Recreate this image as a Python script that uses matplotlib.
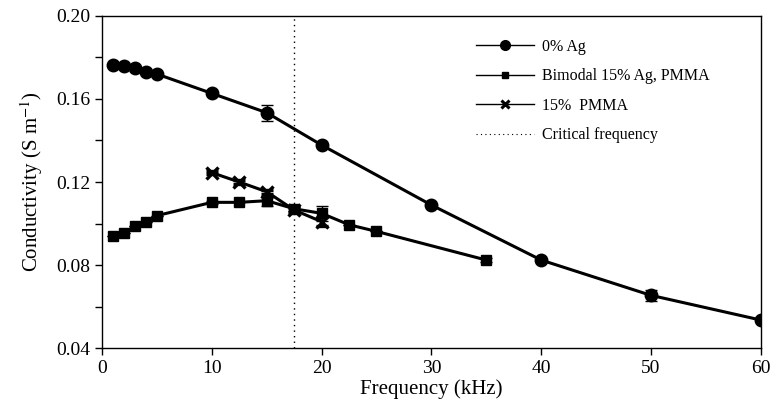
import matplotlib

matplotlib.use("Agg")

import matplotlib.pyplot as plt
from matplotlib.lines import Line2D
from matplotlib.ticker import MultipleLocator

plt.rcParams["font.family"] = ["Liberation Serif", "DejaVu Serif"]
plt.rcParams["mathtext.fontset"] = "stix"

# 0% Ag
freq_ag0 = [1, 2, 3, 4, 5, 10, 15, 20, 30, 40, 50, 60]
cond_ag0 = [0.1764, 0.1760, 0.1748, 0.1732, 0.1720, 0.1627, 0.1534, 0.1378,
            0.1089, 0.0824, 0.0654, 0.0535]
err_ag0 = [0, 0, 0, 0, 0, 0.0010, 0.0039, 0.0010, 0.0010, 0.0008, 0.0026, 0.0010]

# Bimodal 15% Ag, PMMA
freq_bim = [1, 2, 3, 4, 5, 10, 12.5, 15, 17.5, 20, 22.5, 25, 35]
cond_bim = [0.0938, 0.0954, 0.0988, 0.1009, 0.1038, 0.1102, 0.1102, 0.1110,
            0.1071, 0.1049, 0.0994, 0.0962, 0.0824]
err_bim = [0, 0, 0, 0, 0, 0.0008, 0, 0.0024, 0.0010, 0.0037, 0, 0, 0.0008]

# 15% PMMA
freq_pmma = [10, 12.5, 15, 17.5, 20]
cond_pmma = [0.1245, 0.1200, 0.1153, 0.1065, 0.1009]
err_pmma = [0.0008, 0.0008, 0.0010, 0.0010, 0.0020]

critical_freq = 17.5

fig = plt.figure(figsize=(7.7, 4.09), dpi=100)
ax = fig.add_axes([0.1325, 0.149, 0.8555, 0.812])

common = dict(color="black", linewidth=2.2, capsize=4, elinewidth=1.0, capthick=1.0)
ax.errorbar(freq_ag0, cond_ag0, yerr=err_ag0, marker="o", markersize=9, **common)
ax.errorbar(freq_bim, cond_bim, yerr=err_bim, marker="s", markersize=6.5, **common)
ax.errorbar(freq_pmma, cond_pmma, yerr=err_pmma, marker="x", markersize=8.5,
            markeredgewidth=2.4, **common)
ax.axvline(critical_freq, color="black", linestyle=(0, (1, 3)), linewidth=1.0)

ax.set_xlim(0, 60)
ax.set_ylim(0.04, 0.20)
ax.xaxis.set_major_locator(MultipleLocator(10))
ax.yaxis.set_major_locator(MultipleLocator(0.04))
ax.yaxis.set_minor_locator(MultipleLocator(0.02))
ax.yaxis.set_major_formatter(lambda v, _: f"{v:.2f}")
ax.tick_params(which="both", direction="out", labelsize=14, width=1.0, length=5)
for side in ["top", "right", "left", "bottom"]:
    ax.spines[side].set_linewidth(1.0)

ax.set_xlabel("Frequency (kHz)", fontsize=15, labelpad=2)
ax.set_ylabel("Conductivity (S m$^{-1}$)", fontsize=15, labelpad=8)

handles = [
    Line2D([], [], color="black", linewidth=1.0, marker="o", markersize=7),
    Line2D([], [], color="black", linewidth=1.0, marker="s", markersize=5),
    Line2D([], [], color="black", linewidth=1.0, marker="x", markersize=6,
           markeredgewidth=2.2),
    Line2D([], [], color="black", linewidth=0.8, linestyle=(0, (1, 3))),
]
labels = ["0% Ag", "Bimodal 15% Ag, PMMA", "15%  PMMA", "Critical frequency"]
ax.legend(handles, labels, loc="upper left", bbox_to_anchor=(0.546, 0.975),
          frameon=False, fontsize=11.5, handlelength=3.6, handletextpad=0.55,
          labelspacing=0.85)

fig.savefig("out.png", dpi=100)
